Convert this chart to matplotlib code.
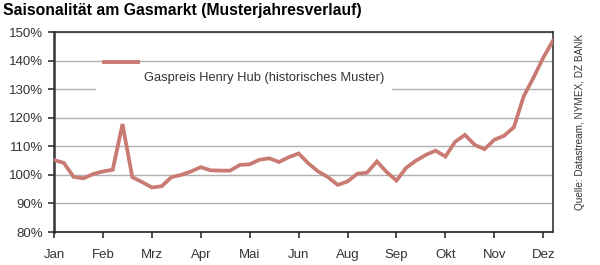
from matplotlib import pyplot as plt
from matplotlib.patches import Rectangle
from matplotlib.lines import Line2D

# weekly seasonal pattern (index, 100% = average)
weeks = list(range(52))
gaspreis = [105.2, 104.2, 99.3, 98.8, 100.3, 101.2, 101.8, 117.8, 99.2, 97.5,
            95.6, 96.0, 99.2, 100.0, 101.2, 102.7, 101.6, 101.5, 101.5, 103.5,
            103.7, 105.3, 105.8, 104.5, 106.2, 107.5, 104.0, 101.2, 99.2, 96.5,
            97.7, 100.4, 100.8, 104.7, 101.0, 98.0, 102.5, 105.0, 107.0, 108.5,
            106.4, 111.6, 114.0, 110.5, 109.0, 112.3, 113.7, 116.7, 127.5, 134.0,
            141.0, 147.0]
monate = ['Jan', 'Feb', 'Mrz', 'Apr', 'Mai', 'Jun', 'Aug', 'Sep', 'Okt', 'Nov', 'Dez']
monat_pos = [0, 5, 10, 15, 20, 25, 30, 35, 40, 45, 50]
yticks = [80, 90, 100, 110, 120, 130, 140, 150]

FONT = ['Liberation Sans', 'DejaVu Sans']
farbe = '#c97b73'

fig = plt.figure(figsize=(6, 2.65), dpi=100)
ax = fig.add_axes([0.09, 0.1245, 0.8317, 0.7545])

ax.plot(weeks, gaspreis, color=farbe, lw=2.7, zorder=3, solid_joinstyle='miter')

ax.set_xlim(0, 51)
ax.set_ylim(80, 150)
ax.set_yticks(yticks)
ax.set_yticklabels([f'{v}%' for v in yticks], fontfamily=FONT, fontsize=9.5, color='#333333')
ax.set_xticks(monat_pos)
ax.set_xticklabels(monate, fontfamily=FONT, fontsize=9.5, color='#333333')
ax.tick_params(axis='y', direction='out', length=4, width=1.2, color='#333333', pad=4)
ax.tick_params(axis='x', direction='out', length=4, width=1.2, color='#333333', pad=8)

ax.grid(axis='y', color='#b0b0b0', lw=1)
ax.set_axisbelow(True)

for s in ['top', 'right']:
    ax.spines[s].set_color('#333333')
    ax.spines[s].set_linewidth(1.2)
ax.spines['left'].set_color('#333333')
ax.spines['left'].set_linewidth(1.8)
ax.spines['bottom'].set_color('#222222')
ax.spines['bottom'].set_linestyle((0, (1, 1)))
ax.spines['bottom'].set_linewidth(1.2)

# legend drawn by hand: white box over gridline, line above the text
ax.add_patch(Rectangle((0.084, 0.63), 0.594, 0.2, transform=ax.transAxes,
                       facecolor='white', edgecolor='none', zorder=2))
ax.add_line(Line2D([0.1, 0.168], [0.85, 0.85], transform=ax.transAxes,
                   color=farbe, lw=2.8, zorder=4))
ax.text(0.18, 0.77, 'Gaspreis Henry Hub (historisches Muster)', transform=ax.transAxes,
        fontfamily=FONT, fontsize=9.3, color='#333333', va='center', ha='left', zorder=4)

fig.text(0.005, 0.962, 'Saisonalität am Gasmarkt (Musterjahresverlauf)',
         fontfamily=FONT, fontweight='bold', fontsize=11.3, va='center', ha='left')
fig.text(0.967, 0.54, 'Quelle: Datastream, NYMEX, DZ BANK', rotation=90,
         fontfamily=FONT, fontsize=7.2, color='#333333', va='center', ha='center')

plt.savefig('out.png', dpi=100)
